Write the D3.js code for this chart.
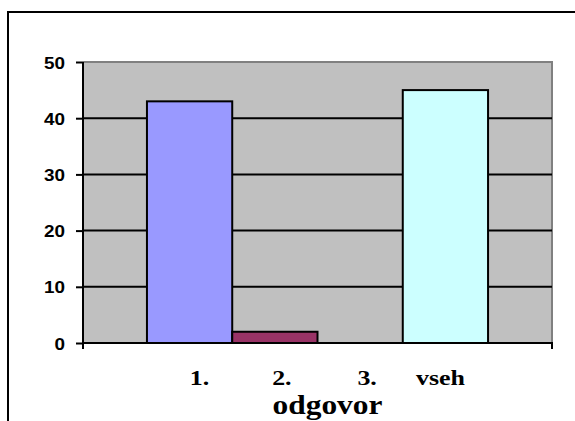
<!DOCTYPE html>
<html>
<head>
<meta charset="utf-8">
<script src="https://cdn.jsdelivr.net/npm/d3@7/dist/d3.min.js"></script>
<style>
  html, body { margin: 0; padding: 0; background: #fff; }
  svg { display: block; }
</style>
</head>
<body>
<svg id="chart" width="575" height="421"></svg>
<script>
// Answers and counts
const seriesNames = ["1.", "2.", "3.", "vseh"];
const seriesValues = [43, 2, 0, 45];
const seriesColors = ["#9999FF", "#993366", "#FFFFCC", "#CCFFFF"];
const yTicks = [0, 10, 20, 30, 40, 50];
const xTitle = "odgovor";

// Layout
const W = 575, H = 421;
const plot = { left: 83, right: 552, top: 62, bottom: 343 };
const labelNudge = [10, 7, 7, -5];  // fine offsets for the category labels
const serif = "'Liberation Serif', 'Times New Roman', Times, serif";

const svg = d3.select("#chart");

// Chart frame (left and top edges)
svg.append("path")
  .attr("d", `M8,${H} L8,12 L${W},12`)
  .attr("fill", "none").attr("stroke", "#000").attr("stroke-width", 2);

const y = d3.scaleLinear().domain([0, 50]).range([plot.bottom, plot.top]);
const x = d3.scaleBand().domain(seriesNames)
  .range([plot.left, plot.right]).paddingInner(0).paddingOuter(0.75);

// Plot area
svg.append("rect")
  .attr("x", plot.left).attr("y", plot.top)
  .attr("width", plot.right - plot.left).attr("height", plot.bottom - plot.top)
  .attr("fill", "#C0C0C0");
svg.append("path")
  .attr("d", `M${plot.left},${plot.top} L${plot.right},${plot.top} L${plot.right},${plot.bottom}`)
  .attr("fill", "none").attr("stroke", "#808080").attr("stroke-width", 2);

// Gridlines
svg.append("g").selectAll("line")
  .data(yTicks.filter(d => d > 0 && d < 50))
  .join("line")
  .attr("x1", plot.left).attr("x2", plot.right)
  .attr("y1", d => y(d)).attr("y2", d => y(d))
  .attr("stroke", "#000").attr("stroke-width", 2);

// Bars
svg.append("g").selectAll("rect")
  .data(seriesNames.map((n, i) => ({ n, v: seriesValues[i], c: seriesColors[i] })).filter(d => d.v > 0))
  .join("rect")
  .attr("x", d => x(d.n)).attr("width", x.bandwidth())
  .attr("y", d => y(d.v)).attr("height", d => y(0) - y(d.v))
  .attr("fill", d => d.c)
  .attr("stroke", "#000").attr("stroke-width", 2);

// Y axis
const yAxis = svg.append("g").attr("transform", `translate(${plot.left},0)`)
  .call(d3.axisLeft(y).tickValues(yTicks).tickSize(7).tickPadding(0).tickFormat(d3.format("d")));
yAxis.select(".domain").attr("stroke", "#000").attr("stroke-width", 2)
  .attr("d", `M0,${plot.top}V${plot.bottom}`);
yAxis.selectAll(".tick line").attr("stroke", "#000").attr("stroke-width", 2);
yAxis.selectAll(".tick text").remove();
yAxis.selectAll(".tick").append("text")
  .attr("transform", `translate(-18,6) scale(1.18,1)`)
  .attr("text-anchor", "end")
  .attr("fill", "#000")
  .style("font-family", "'Liberation Sans', Arial, sans-serif")
  .style("font-weight", "bold")
  .style("font-size", "16px")
  .text(d => d);

// X axis line with end ticks
svg.append("path")
  .attr("d", `M${plot.left},${plot.bottom + 6} V${plot.bottom} H${plot.right} V${plot.bottom + 6}`)
  .attr("fill", "none").attr("stroke", "#000").attr("stroke-width", 2);

// Category labels, widened so "vseh" spans 49px
const catLabels = svg.append("g").selectAll("text")
  .data(seriesNames)
  .join("text")
  .attr("text-anchor", "middle")
  .style("font-family", serif)
  .style("font-weight", "bold")
  .style("font-size", "22px")
  .text(d => d);
const vsehWidth = catLabels.filter(d => d === "vseh").node().getBBox().width;
const catStretch = 49 / vsehWidth;
catLabels.attr("transform", (d, i) =>
  `translate(${x(d) + x.bandwidth() / 2 + labelNudge[i]},385) scale(${catStretch},1)`);

// Axis title, widened to 110px
const title = svg.append("text")
  .attr("text-anchor", "middle")
  .style("font-family", serif)
  .style("font-weight", "bold")
  .style("font-size", "28px")
  .text(xTitle);
const titleStretch = 110 / title.node().getBBox().width;
title.attr("transform", `translate(${(plot.left + plot.right) / 2 + 10},414) scale(${titleStretch},1)`);
</script>
</body>
</html>
